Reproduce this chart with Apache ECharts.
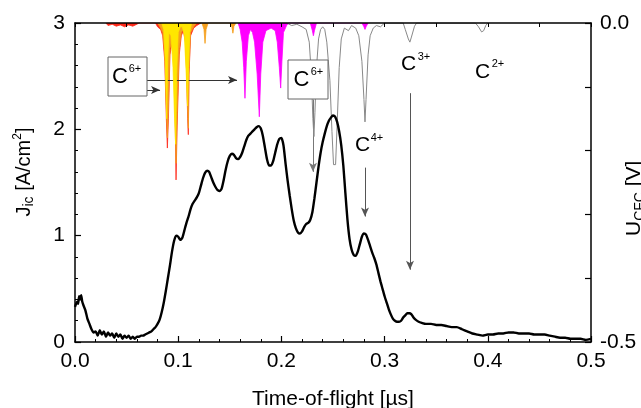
<!DOCTYPE html>
<html>
<head>
<meta charset="utf-8">
<script src="https://cdn.jsdelivr.net/npm/echarts@6.0.0/dist/echarts.min.js"></script>
<style>
html,body{margin:0;padding:0;background:#fff;}
#chart{width:641px;height:408px;}
</style>
</head>
<body>
<div id="chart"></div>
<script>
// ---- Data ----
// Ion current density J_ic [A/cm^2] vs time-of-flight [µs]
var jTime = [0,0.002,0.003,0.004,0.005,0.006,0.007,0.008,0.010,0.012,0.014,0.016,0.018,0.020,0.022,0.024,0.026,0.028,0.030,0.032,0.034,0.036,0.038,0.040,0.042,0.044,0.046,0.048,0.050,0.052,0.054,0.056,0.058,0.060,0.062,0.064,0.066,0.068,0.070,0.072,0.074,0.076,0.078,0.080,0.082,0.084,0.086,0.088,0.090,0.092,0.094,0.096,0.098,0.100,0.102,0.104,0.106,0.108,0.110,0.112,0.114,0.116,0.118,0.120,0.122,0.124,0.126,0.128,0.130,0.132,0.134,0.136,0.138,0.140,0.142,0.144,0.146,0.148,0.150,0.152,0.154,0.156,0.158,0.160,0.162,0.164,0.166,0.168,0.170,0.172,0.174,0.176,0.178,0.180,0.182,0.184,0.186,0.188,0.190,0.192,0.194,0.196,0.198,0.200,0.202,0.204,0.206,0.208,0.210,0.212,0.214,0.216,0.218,0.220,0.222,0.224,0.226,0.228,0.230,0.232,0.234,0.236,0.238,0.240,0.242,0.244,0.246,0.248,0.250,0.252,0.254,0.256,0.258,0.260,0.262,0.264,0.266,0.268,0.270,0.272,0.274,0.276,0.278,0.280,0.282,0.284,0.286,0.288,0.290,0.292,0.294,0.296,0.298,0.300,0.302,0.304,0.306,0.308,0.310,0.312,0.314,0.316,0.318,0.320,0.322,0.324,0.326,0.328,0.330,0.333,0.336,0.340,0.345,0.350,0.355,0.360,0.365,0.370,0.375,0.380,0.385,0.390,0.395,0.400,0.405,0.410,0.415,0.420,0.425,0.430,0.435,0.440,0.445,0.450,0.455,0.460,0.465,0.470,0.475,0.480,0.485,0.490,0.495,0.500];
var jValue = [0.33,0.38,0.36,0.43,0.40,0.44,0.38,0.35,0.30,0.22,0.17,0.12,0.09,0.10,0.06,0.11,0.07,0.10,0.05,0.09,0.06,0.08,0.04,0.08,0.05,0.07,0.03,0.06,0.04,0.06,0.03,0.05,0.03,0.05,0.05,0.06,0.06,0.07,0.08,0.09,0.10,0.12,0.14,0.17,0.21,0.28,0.37,0.48,0.60,0.72,0.85,0.95,1.00,0.99,0.96,0.98,1.05,1.12,1.18,1.25,1.30,1.33,1.36,1.40,1.47,1.54,1.59,1.61,1.60,1.55,1.50,1.46,1.43,1.42,1.44,1.52,1.62,1.70,1.75,1.77,1.76,1.73,1.72,1.74,1.78,1.84,1.90,1.94,1.96,1.98,2.00,2.02,2.03,2.01,1.94,1.83,1.72,1.66,1.66,1.70,1.78,1.86,1.91,1.92,1.85,1.68,1.52,1.38,1.25,1.14,1.07,1.03,1.02,1.04,1.08,1.11,1.12,1.15,1.22,1.35,1.50,1.65,1.78,1.88,1.96,2.03,2.08,2.11,2.13,2.12,2.07,1.98,1.85,1.66,1.40,1.15,0.97,0.87,0.82,0.81,0.85,0.92,0.99,1.02,1.01,0.96,0.90,0.84,0.79,0.73,0.65,0.57,0.50,0.43,0.37,0.31,0.26,0.22,0.20,0.19,0.19,0.20,0.23,0.25,0.27,0.27,0.26,0.23,0.21,0.19,0.18,0.17,0.17,0.16,0.16,0.15,0.14,0.14,0.12,0.10,0.08,0.07,0.06,0.07,0.07,0.08,0.08,0.09,0.09,0.08,0.08,0.08,0.07,0.07,0.07,0.06,0.05,0.04,0.04,0.03,0.03,0.03,0.02,0.03];

// Detector signals U_CFC [V] (right axis, negative going peaks)
var redTime  = [0.030,0.032,0.036,0.040,0.044,0.048,0.052,0.056,0.060,0.062,0.078,0.080,0.083,0.085,0.087,0.0885,0.0895,0.0905,0.092,0.094,0.096,0.097,0.0979,0.099,0.101,0.103,0.105,0.107,0.108,0.1092,0.1098,0.1105,0.112,0.115,0.118,0.122];
var redValue = [0,-0.004,-0.002,-0.005,-0.003,-0.006,-0.003,-0.005,-0.002,0,0,-0.006,-0.010,-0.020,-0.060,-0.150,-0.196,-0.150,-0.050,-0.030,-0.060,-0.140,-0.246,-0.160,-0.050,-0.020,-0.012,-0.030,-0.070,-0.150,-0.175,-0.080,-0.020,-0.008,-0.004,0];

var orangeTime  = [0.080,0.083,0.085,0.087,0.0885,0.0895,0.0905,0.092,0.094,0.096,0.097,0.0979,0.099,0.101,0.103,0.105,0.107,0.108,0.1092,0.1098,0.1105,0.112,0.115,0.118,0.123,0.125,0.126,0.127,0.129,0.150,0.152,0.153,0.154,0.156];
var orangeValue = [0,-0.008,-0.015,-0.050,-0.130,-0.180,-0.130,-0.040,-0.025,-0.050,-0.120,-0.220,-0.140,-0.040,-0.015,-0.010,-0.025,-0.060,-0.140,-0.165,-0.070,-0.015,-0.006,0,0,-0.010,-0.032,-0.010,0,0,-0.006,-0.016,-0.005,0];

var yellowTime  = [0.084,0.086,0.0875,0.0888,0.0898,0.091,0.093,0.095,0.0965,0.0975,0.0985,0.100,0.102,0.104,0.106,0.1078,0.1090,0.1100,0.1112,0.113];
var yellowValue = [0,-0.010,-0.060,-0.150,-0.060,-0.015,-0.020,-0.070,-0.150,-0.190,-0.080,-0.015,-0.006,-0.006,-0.020,-0.080,-0.130,-0.070,-0.015,0];

var magentaTime  = [0.158,0.160,0.162,0.1635,0.1647,0.166,0.168,0.170,0.172,0.174,0.1765,0.1786,0.180,0.182,0.185,0.190,0.194,0.196,0.198,0.1993,0.2005,0.202,0.205,0.207,0.228,0.230,0.231,0.232,0.234,0.278,0.280,0.281,0.282,0.284];
var magentaValue = [0,-0.010,-0.030,-0.070,-0.118,-0.060,-0.020,-0.010,-0.015,-0.030,-0.080,-0.147,-0.080,-0.030,-0.012,-0.008,-0.012,-0.030,-0.070,-0.102,-0.060,-0.015,-0.004,0,0,-0.012,-0.020,-0.012,0,0,-0.006,-0.010,-0.006,0];

var grayTime  = [0.205,0.210,0.215,0.220,0.224,0.227,0.229,0.2305,0.2315,0.2325,0.234,0.236,0.238,0.240,0.242,0.244,0.247,0.249,0.2505,0.2525,0.254,0.256,0.258,0.261,0.265,0.268,0.272,0.275,0.278,0.280,0.281,0.282,0.284,0.286,0.289,0.292,0.296,0.300,0.318,0.320,0.323,0.3245,0.326,0.329,0.331,0.388,0.391,0.394,0.396,0.398,0.400];
var grayValue = [0,-0.004,-0.002,-0.006,-0.010,-0.030,-0.080,-0.150,-0.178,-0.140,-0.070,-0.025,-0.010,-0.006,-0.010,-0.030,-0.090,-0.170,-0.222,-0.222,-0.160,-0.070,-0.025,-0.008,-0.012,-0.004,-0.008,-0.020,-0.060,-0.120,-0.155,-0.120,-0.050,-0.020,-0.008,-0.004,-0.006,0,0,-0.010,-0.025,-0.030,-0.022,-0.005,0,0,-0.006,-0.014,-0.012,-0.004,0];

// Tick labels
var xTickLabels = ['0.0','0.1','0.2','0.3','0.4','0.5'];
var yLeftTickLabels = ['0','1','2','3'];
var yRightTickLabels = {'0': '0.0', '-0.5': '-0.5'};

// Annotation arrows (data coordinates: [time, J])
var arrows = [
  {from:[0.0698,2.465], to:[0.157,2.465], color:'#333'},
  {from:[0.0698,2.37], to:[0.0824,2.37], color:'#333'},
  {from:[0.2306,2.28], to:[0.2306,1.60], color:'#777'},
  {from:[0.281,1.64], to:[0.281,1.18], color:'#555'},
  {from:[0.3246,2.34], to:[0.3246,0.68], color:'#555'}
];

function pairs(t, v){ return t.map(function(x,i){ return [x, v[i]]; }); }

var FONT = 'Liberation Sans, Arial, sans-serif';
var chart = echarts.init(document.getElementById('chart'), null, {renderer:'canvas'});

function areaSeries(name, t, v, color, z){
  return {
    name:name, type:'line', xAxisIndex:0, yAxisIndex:1, data:pairs(t,v),
    showSymbol:false, symbol:'none', smooth:false, z:z, silent:true,
    lineStyle:{color:color, width:0.8},
    areaStyle:{color:color, opacity:1, origin:'end'}
  };
}

var option = {
  animation:false,
  backgroundColor:'#fff',
  grid:{left:75, right:50, top:23, bottom:66, containLabel:false, outerBoundsMode:'none'},
  xAxis:[{
    type:'value', min:0, max:0.5, interval:0.1, position:'bottom', z:10,
    axisLine:{show:true, onZero:false, lineStyle:{color:'#000', width:1.5}},
    axisTick:{show:true, inside:true, length:6, lineStyle:{color:'#000', width:1.2}},
    minorTick:{show:true, splitNumber:5, length:3, lineStyle:{color:'#000', width:1}},
    splitLine:{show:false},
    axisLabel:{color:'#000', fontSize:21, fontFamily:FONT, margin:9,
      formatter:function(v){ return xTickLabels[Math.round(v*10)]; }},
    name:'Time-of-flight [µs]', nameLocation:'middle', nameGap:47,
    nameTextStyle:{color:'#000', fontSize:21, fontFamily:FONT}
  },{
    type:'value', min:0, max:0.5, interval:0.1, position:'top', z:10,
    axisLine:{show:true, onZero:false, lineStyle:{color:'#000', width:1.5}},
    axisTick:{show:true, inside:true, length:4, lineStyle:{color:'#000', width:1}},
    minorTick:{show:true, splitNumber:2, length:4, lineStyle:{color:'#000', width:1}},
    splitLine:{show:false}, axisLabel:{show:false}
  }],
  yAxis:[{
    type:'value', min:0, max:3, interval:1, position:'left', z:10,
    axisLine:{show:true, onZero:false, lineStyle:{color:'#000', width:1.5}},
    axisTick:{show:true, inside:true, length:6, lineStyle:{color:'#000', width:1.2}},
    minorTick:{show:true, splitNumber:5, length:3, lineStyle:{color:'#000', width:1}},
    splitLine:{show:false},
    axisLabel:{color:'#000', fontSize:21, fontFamily:FONT, margin:10,
      formatter:function(v){ return yLeftTickLabels[Math.round(v)]; }}
  },{
    type:'value', min:-0.5, max:0, interval:0.1, position:'right', z:10,
    axisLine:{show:true, onZero:false, lineStyle:{color:'#000', width:1.5}},
    axisTick:{show:true, inside:true, length:6, lineStyle:{color:'#000', width:1.2}},
    splitLine:{show:false},
    axisLabel:{color:'#000', fontSize:21, fontFamily:FONT, margin:9, showMinLabel:true, showMaxLabel:true,
      formatter:function(v){ var k = String(Math.round(v*10)/10); return yRightTickLabels[k] || ''; }}
  }],
  series:[
    areaSeries('red', redTime, redValue, '#ff2a1a', 3),
    areaSeries('orange', orangeTime, orangeValue, '#f5a01e', 4),
    areaSeries('yellow', yellowTime, yellowValue, '#ffe600', 5),
    areaSeries('magenta', magentaTime, magentaValue, '#ff00ff', 6),
    {
      name:'gray', type:'line', xAxisIndex:0, yAxisIndex:1, data:pairs(grayTime, grayValue),
      showSymbol:false, symbol:'none', z:7, silent:true,
      lineStyle:{color:'#888', width:1}
    },
    {
      name:'J', type:'line', xAxisIndex:0, yAxisIndex:0, data:pairs(jTime, jValue),
      showSymbol:false, symbol:'none', z:8, silent:true, smooth:0.2,
      lineStyle:{color:'#000', width:2.4},
      markLine:{
        silent:true, symbol:['none','arrow'], symbolSize:[6,9], animation:false,
        label:{show:false},
        data: arrows.map(function(a){
          return [{coord:a.from, lineStyle:{color:a.color, width:1, type:'solid'}},
                  {coord:a.to}];
        })
      }
    }
  ],
  graphic:[
    {type:'rect', z:50, shape:{x:108, y:57, width:39, height:39}, style:{fill:'#fff', stroke:'#666', lineWidth:1}},
    {type:'text', z:51, x:120, y:77, style:{text:'C', fontSize:22, fontFamily:FONT, fill:'#000', align:'center', verticalAlign:'middle'}},
    {type:'text', z:51, x:135, y:69, style:{text:'6+', fontSize:11, fontFamily:FONT, fill:'#000', align:'center', verticalAlign:'middle'}},

    {type:'rect', z:50, shape:{x:288, y:60, width:40, height:39}, style:{fill:'#fff', stroke:'#666', lineWidth:1}},
    {type:'text', z:51, x:301.5, y:80, style:{text:'C', fontSize:22, fontFamily:FONT, fill:'#000', align:'center', verticalAlign:'middle'}},
    {type:'text', z:51, x:317, y:72, style:{text:'6+', fontSize:11, fontFamily:FONT, fill:'#000', align:'center', verticalAlign:'middle'}},

    {type:'text', z:51, x:362.5, y:145, style:{text:'C', fontSize:21, fontFamily:FONT, fill:'#000', align:'center', verticalAlign:'middle'}},
    {type:'text', z:51, x:377, y:137.5, style:{text:'4+', fontSize:11, fontFamily:FONT, fill:'#000', align:'center', verticalAlign:'middle'}},

    {type:'text', z:51, x:408.5, y:64, style:{text:'C', fontSize:21, fontFamily:FONT, fill:'#000', align:'center', verticalAlign:'middle'}},
    {type:'text', z:51, x:424, y:57, style:{text:'3+', fontSize:11, fontFamily:FONT, fill:'#000', align:'center', verticalAlign:'middle'}},

    {type:'text', z:51, x:482.5, y:72.5, style:{text:'C', fontSize:21, fontFamily:FONT, fill:'#000', align:'center', verticalAlign:'middle'}},
    {type:'text', z:51, x:498, y:64, style:{text:'2+', fontSize:11, fontFamily:FONT, fill:'#000', align:'center', verticalAlign:'middle'}},

    // left axis title
    {type:'text', z:51, x:24, y:172, rotation:Math.PI/2,
      style:{text:'{n|J}{s|ic}{n| [A/cm}{p|2}{n|]}', fontFamily:FONT, fill:'#000', align:'center', verticalAlign:'middle',
        rich:{
          n:{fontSize:20, fontFamily:FONT, fill:'#000', lineHeight:24, verticalAlign:'middle'},
          s:{fontSize:14, fontFamily:FONT, fill:'#000', lineHeight:24, verticalAlign:'bottom', padding:[7,0,0,0]},
          p:{fontSize:12, fontFamily:FONT, fill:'#000', lineHeight:24, verticalAlign:'top', padding:[0,0,9,0]}
        }}},

    // right axis title (partly clipped by the page edge, as in the original)
    {type:'text', z:51, x:621, y:236, rotation:Math.PI/2,
      style:{text:'{n|U}{s|CFC}{n| [V]}', fontFamily:FONT, fill:'#000', align:'left', verticalAlign:'top',
        rich:{
          n:{fontSize:21, fontFamily:FONT, fill:'#000', lineHeight:26, verticalAlign:'middle'},
          s:{fontSize:14, fontFamily:FONT, fill:'#000', lineHeight:26, verticalAlign:'bottom', padding:[8,0,0,0]}
        }}}
  ]
};
chart.setOption(option);
</script>
</body>
</html>
